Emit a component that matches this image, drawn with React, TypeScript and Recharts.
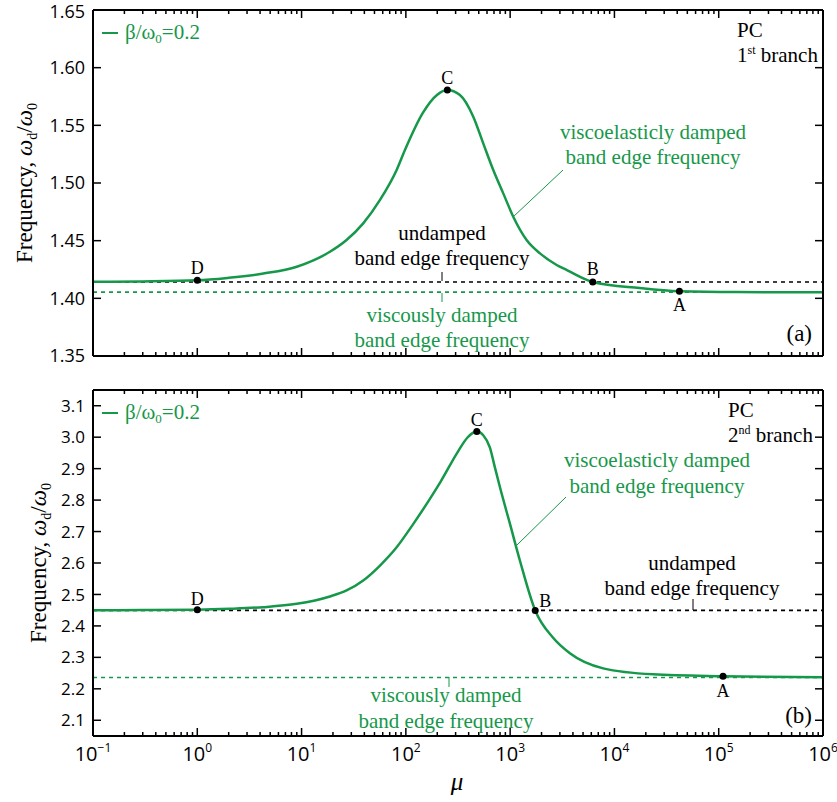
import { ComposedChart, Line, XAxis, YAxis, ReferenceLine, ReferenceDot } from 'recharts'

const GREEN = '#16984A'
const SERIF = '"Liberation Serif", "Times New Roman", serif'
const SANS = '"Open Sans", "Liberation Sans", sans-serif'

// log axis: decades + minor ticks
const DECADES = [0.1, 1, 10, 100, 1000, 10000, 100000, 1000000]
const DECADE_EXP = ['−1', '0', '1', '2', '3', '4', '5', '6']
const MINOR_STEPS = [2, 3, 4, 5, 6, 7, 8, 9]

// panel (a): 1st branch
const TOP_MU = [0.1, 0.3, 1, 2, 4.3, 9, 18.7, 27, 39, 56.5, 81.6, 98, 146, 200, 250, 330, 443, 552, 689, 859, 1071, 1438, 1932, 2792, 3500, 6200, 17400, 42000, 150000, 1000000]
const TOP_FREQ = [1.4144, 1.4147, 1.4156, 1.4178, 1.4215, 1.4274, 1.4404, 1.4506, 1.465, 1.4853, 1.5113, 1.5286, 1.561, 1.5765, 1.5806, 1.5763, 1.5575, 1.5344, 1.5113, 1.491, 1.4708, 1.4506, 1.439, 1.4289, 1.4245, 1.4142, 1.409, 1.4062, 1.4054, 1.4052]
const TOP_UNDAMPED = 1.4142
const TOP_VISCOUS = 1.4054
const TOP_YTICKS = [1.35, 1.4, 1.45, 1.5, 1.55, 1.6, 1.65]

// panel (b): 2nd branch
const BOT_MU = [0.1, 0.3, 1, 2.06, 4.3, 9, 18.7, 27, 39, 56.5, 81.6, 118, 170, 215, 317, 390, 479, 552, 640, 714, 800, 995, 1240, 1740, 2570, 3740, 7800, 23500, 110000, 1000000]
const BOT_FREQ = [2.4497, 2.4502, 2.4515, 2.4545, 2.4597, 2.4703, 2.4937, 2.5127, 2.5444, 2.592, 2.65, 2.7244, 2.8038, 2.858, 2.955, 2.999, 3.018, 3.006, 2.967, 2.904, 2.84, 2.725, 2.608, 2.449, 2.363, 2.313, 2.265, 2.246, 2.24, 2.2365]
const BOT_UNDAMPED = 2.4495
const BOT_VISCOUS = 2.2361
const BOT_YTICKS = [2.1, 2.2, 2.3, 2.4, 2.5, 2.6, 2.7, 2.8, 2.9, 3.0, 3.1]

// marked points A-D
const TOP_POINT_NAMES = ['D', 'C', 'B', 'A']
const TOP_POINT_MU = [1, 250, 6200, 42000]
const TOP_POINT_F = [1.4156, 1.5806, 1.4142, 1.4062]
const BOT_POINT_NAMES = ['D', 'C', 'B', 'A']
const BOT_POINT_MU = [1, 479, 1740, 110000]
const BOT_POINT_F = [2.4515, 3.018, 2.449, 2.24]

// label offsets from the dot (px)
const TOP_LABEL_POS: Record<string, [number, number]> = { D: [0, -6], C: [0, -6], B: [0, -7], A: [0, 20] }
const BOT_LABEL_POS: Record<string, [number, number]> = { D: [0, -5], C: [0, -6], B: [10, -3], A: [0, 21] }

const X_TICKS = [
  ...DECADES,
  ...DECADES.slice(0, -1).flatMap((d) => MINOR_STEPS.map((m) => d * m)),
].sort((a, b) => a - b)

function decadeIndex(v: number) {
  return DECADES.findIndex((d) => Math.abs(d - v) / d < 1e-6)
}

function XTick(props: any) {
  const { x, y, payload, side, labels } = props
  const idx = decadeIndex(payload.value)
  const len = idx >= 0 ? 8 : 4
  const dir = side === 'top' ? 1 : -1
  return (
    <g>
      <line x1={x} x2={x} y1={y} y2={y + dir * len} stroke="#000" strokeWidth={1.5} />
      {labels && idx >= 0 && (
        <text x={x} y={y + 25} textAnchor="middle" fontFamily={SANS} fontSize={20} fill="#000">
          10<tspan dy={-9} fontSize={12}>{DECADE_EXP[idx]}</tspan>
        </text>
      )}
    </g>
  )
}

function YTick(props: any) {
  const { x, y, payload, side, fontSize, digits } = props
  const dir = side === 'left' ? 1 : -1
  // keep the topmost label inside the page
  const ty = y < 14 ? y + 2 : y
  return (
    <g>
      <line x1={x} x2={x + dir * 8} y1={y} y2={y} stroke="#000" strokeWidth={1.5} />
      {side === 'left' && (
        <text x={x - 8} y={ty} dy="0.36em" textAnchor="end" fontFamily={SANS} fontSize={fontSize} fill="#000">
          {Number(payload.value).toFixed(digits)}
        </text>
      )}
    </g>
  )
}

interface PanelProps {
  height: number
  bottom: number
  mu: number[]
  freq: number[]
  domain: [number, number]
  yTicks: number[]
  yFont: number
  yDigits: number
  undamped: number
  viscous: number
  names: string[]
  pMu: number[]
  pF: number[]
  labelPos: Record<string, [number, number]>
  xLabels: boolean
}

function Panel(p: PanelProps) {
  const data = p.mu.map((mu, i) => ({ mu, f: p.freq[i] }))
  const axisLine = { stroke: '#000', strokeWidth: 2 }
  return (
    <ComposedChart width={837} height={p.height} margin={{ top: 9, right: 13, bottom: p.bottom, left: 0 }}>
      <XAxis
        xAxisId="b" dataKey="mu" type="number" scale="log" domain={[0.1, 1000000]} allowDataOverflow
        ticks={X_TICKS} interval={0} height={1} tickSize={0} tickMargin={0} tickLine={false} axisLine={axisLine}
        tick={(t: any) => <XTick {...t} side="bottom" labels={p.xLabels} />}
      />
      <XAxis
        xAxisId="t" orientation="top" dataKey="mu" type="number" scale="log" domain={[0.1, 1000000]} allowDataOverflow
        ticks={X_TICKS} interval={0} height={1} tickSize={0} tickMargin={0} tickLine={false} axisLine={axisLine}
        tick={(t: any) => <XTick {...t} side="top" labels={false} />}
      />
      <YAxis
        yAxisId="l" type="number" domain={p.domain} allowDataOverflow ticks={p.yTicks} interval={0}
        width={93} tickSize={0} tickMargin={0} tickLine={false} axisLine={axisLine}
        tick={(t: any) => <YTick {...t} side="left" fontSize={p.yFont} digits={p.yDigits} />}
      />
      <YAxis
        yAxisId="r" orientation="right" type="number" domain={p.domain} allowDataOverflow ticks={p.yTicks} interval={0}
        width={1} tickSize={0} tickMargin={0} tickLine={false} axisLine={axisLine}
        tick={(t: any) => <YTick {...t} side="right" />}
      />
      <ReferenceLine xAxisId="b" yAxisId="l" y={p.undamped} stroke="#000" strokeWidth={1.6} strokeDasharray="4 4" />
      <ReferenceLine xAxisId="b" yAxisId="l" y={p.viscous} stroke={GREEN} strokeWidth={1.6} strokeDasharray="4 4" />
      <Line
        xAxisId="b" yAxisId="l" data={data} dataKey="f" type="monotone"
        stroke={GREEN} strokeWidth={2.5} dot={false} isAnimationActive={false}
      />
      {p.names.map((n, i) => (
        <ReferenceDot
          key={n} xAxisId="b" yAxisId="l" x={p.pMu[i]} y={p.pF[i]} r={3.5}
          shape={(s: any) => (
            <g>
              <circle cx={s.cx} cy={s.cy} r={3.5} fill="#000" />
              <text
                x={s.cx + p.labelPos[n][0]} y={s.cy + p.labelPos[n][1]} textAnchor="middle"
                fontFamily={SERIF} fontSize={18} fill="#000"
              >
                {n}
              </text>
            </g>
          )}
        />
      ))}
    </ComposedChart>
  )
}

function YTitle({ x, y }: { x: number; y: number }) {
  return (
    <text transform={`translate(${x},${y}) rotate(-90)`} textAnchor="middle" dy="0.35em" fontFamily={SERIF} fontSize={23} fill="#000">
      Frequency, <tspan fontStyle="italic">ω</tspan>
      <tspan fontSize={14} dy={5}>d</tspan>
      <tspan dy={-5}>/</tspan>
      <tspan fontStyle="italic">ω</tspan>
      <tspan fontSize={14} dy={5}>0</tspan>
    </text>
  )
}

function LegendItem({ y }: { y: number }) {
  return (
    <g>
      <line x1={102} x2={118} y1={y} y2={y} stroke={GREEN} strokeWidth={2} />
      <text x={125} y={y + 6} fontFamily={SERIF} fontSize={21} fill={GREEN}>
        β/ω<tspan fontSize={13} dy={4}>0</tspan><tspan dy={-4}>=0.2</tspan>
      </text>
    </g>
  )
}

function Overlay() {
  const t = { fontFamily: SERIF, fontSize: 21, textAnchor: 'middle' as const }
  return (
    <svg width={837} height={802} style={{ position: 'absolute', left: 0, top: 0, pointerEvents: 'none' }}>
      <YTitle x={24} y={183} />
      <YTitle x={38} y={563} />
      <LegendItem y={33} />
      <LegendItem y={413} />

      {/* panel (a) */}
      <text x={737} y={37} fontFamily={SERIF} fontSize={21}>PC</text>
      <text x={737} y={62} fontFamily={SERIF} fontSize={21}>
        1<tspan fontSize={12} dy={-8}>st</tspan><tspan dy={8}> branch</tspan>
      </text>
      <text x={812} y={341} fontFamily={SERIF} fontSize={23} textAnchor="end">(a)</text>
      <text {...t} x={442} y={240}>undamped</text>
      <text {...t} x={442} y={265}>band edge frequency</text>
      <line x1={442} x2={442} y1={272} y2={281} stroke="#000" strokeWidth={1} />
      <text {...t} x={442} y={322} fill={GREEN}>viscously damped</text>
      <text {...t} x={442} y={347} fill={GREEN}>band edge frequency</text>
      <line x1={442} x2={442} y1={293} y2={302} stroke={GREEN} strokeWidth={1} />
      <text {...t} x={653} y={139} fill={GREEN}>viscoelasticly damped</text>
      <text {...t} x={653} y={164} fill={GREEN}>band edge frequency</text>
      <line x1={563} y1={170} x2={513} y2={217} stroke={GREEN} strokeWidth={1} />

      {/* panel (b) */}
      <text x={728} y={417} fontFamily={SERIF} fontSize={21}>PC</text>
      <text x={728} y={442} fontFamily={SERIF} fontSize={21}>
        2<tspan fontSize={12} dy={-8}>nd</tspan><tspan dy={8}> branch</tspan>
      </text>
      <text x={812} y={723} fontFamily={SERIF} fontSize={23} textAnchor="end">(b)</text>
      <text {...t} x={657} y={467} fill={GREEN}>viscoelasticly damped</text>
      <text {...t} x={657} y={493} fill={GREEN}>band edge frequency</text>
      <line x1={566} y1={497} x2={517} y2={545} stroke={GREEN} strokeWidth={1} />
      <text {...t} x={692} y={570}>undamped</text>
      <text {...t} x={692} y={595}>band edge frequency</text>
      <line x1={693} x2={693} y1={599} y2={610} stroke="#000" strokeWidth={1} />
      <text {...t} x={446} y={702} fill={GREEN}>viscously damped</text>
      <text {...t} x={446} y={728} fill={GREEN}>band edge frequency</text>
      <line x1={449} x2={449} y1={677} y2={687} stroke={GREEN} strokeWidth={1} />

      <text x={457} y={790} fontFamily={SERIF} fontSize={25} fontStyle="italic" textAnchor="middle">μ</text>
    </svg>
  )
}

export default function App() {
  return (
    <div style={{ position: 'absolute', left: 0, top: 0, width: 837, height: 802, background: '#fff' }}>
      <div style={{ position: 'absolute', left: 0, top: 0 }}>
        <Panel
          height={380} bottom={23} mu={TOP_MU} freq={TOP_FREQ} domain={[1.35, 1.65]}
          yTicks={TOP_YTICKS} yFont={18} yDigits={2} undamped={TOP_UNDAMPED} viscous={TOP_VISCOUS}
          names={TOP_POINT_NAMES} pMu={TOP_POINT_MU} pF={TOP_POINT_F} labelPos={TOP_LABEL_POS} xLabels={false}
        />
      </div>
      <div style={{ position: 'absolute', left: 0, top: 380 }}>
        <Panel
          height={422} bottom={65} mu={BOT_MU} freq={BOT_FREQ} domain={[2.05, 3.15]}
          yTicks={BOT_YTICKS} yFont={17} yDigits={1} undamped={BOT_UNDAMPED} viscous={BOT_VISCOUS}
          names={BOT_POINT_NAMES} pMu={BOT_POINT_MU} pF={BOT_POINT_F} labelPos={BOT_LABEL_POS} xLabels={true}
        />
      </div>
      <Overlay />
    </div>
  )
}
